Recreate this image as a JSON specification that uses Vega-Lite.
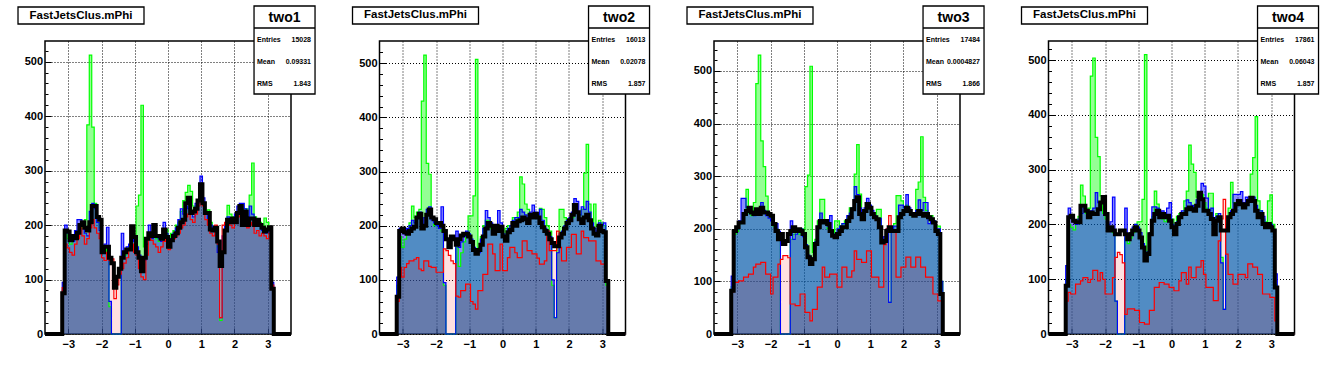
{
"$schema":"https://vega.github.io/schema/vega-lite/v6.json",
"background":"white",
"padding":{"left":16,"top":4,"right":0,"bottom":0},
"bounds":"flush",
"spacing":88.5,
"config":{"view":{"stroke":"#000","strokeWidth":1.5},"font":"Liberation Sans"},
"datasets":{"h":[
{"p":1,"x":-3.7,"g":0,"b":0,"r":0,"k":0},{"p":1,"x":-3.219,"g":0,"b":0,"r":0,"k":0},
{"p":1,"x":-3.145,"g":80,"b":95,"r":85,"k":75},{"p":1,"x":-3.071,"g":185,"b":200,"r":165,"k":190},{"p":1,"x":-2.997,"g":175,"b":185,"r":158,"k":188},{"p":1,"x":-2.923,"g":165,"b":175,"r":150,"k":172},{"p":1,"x":-2.849,"g":170,"b":170,"r":145,"k":180},{"p":1,"x":-2.775,"g":180,"b":190,"r":165,"k":176},{"p":1,"x":-2.701,"g":190,"b":210,"r":175,"k":186},{"p":1,"x":-2.627,"g":200,"b":210,"r":195,"k":200},{"p":1,"x":-2.553,"g":195,"b":200,"r":180,"k":205},{"p":1,"x":-2.479,"g":210,"b":185,"r":165,"k":195},
{"p":1,"x":-2.405,"g":384,"b":180,"r":175,"k":190},{"p":1,"x":-2.331,"g":512,"b":225,"r":195,"k":205},{"p":1,"x":-2.257,"g":380,"b":240,"r":210,"k":235},{"p":1,"x":-2.183,"g":240,"b":230,"r":195,"k":235},{"p":1,"x":-2.109,"g":205,"b":205,"r":185,"k":215},{"p":1,"x":-2.035,"g":195,"b":190,"r":175,"k":210},{"p":1,"x":-1.961,"g":150,"b":160,"r":140,"k":150},{"p":1,"x":-1.887,"g":150,"b":165,"r":135,"k":160},{"p":1,"x":-1.813,"g":160,"b":196,"r":150,"k":160},{"p":1,"x":-1.739,"g":50,"b":60,"r":135,"k":140},
{"p":1,"x":-1.665,"g":0,"b":0,"r":138,"k":130},{"p":1,"x":-1.591,"g":0,"b":0,"r":65,"k":85},{"p":1,"x":-1.517,"g":0,"b":0,"r":90,"k":105},{"p":1,"x":-1.443,"g":0,"b":0,"r":110,"k":120},{"p":1,"x":-1.369,"g":140,"b":185,"r":120,"k":140},{"p":1,"x":-1.295,"g":145,"b":150,"r":130,"k":150},{"p":1,"x":-1.221,"g":150,"b":160,"r":140,"k":155},{"p":1,"x":-1.147,"g":160,"b":165,"r":155,"k":155},{"p":1,"x":-1.073,"g":175,"b":185,"r":165,"k":198},{"p":1,"x":-0.999,"g":170,"b":170,"r":150,"k":178},
{"p":1,"x":-0.925,"g":235,"b":160,"r":145,"k":150},{"p":1,"x":-0.851,"g":255,"b":145,"r":120,"k":140},{"p":1,"x":-0.777,"g":420,"b":120,"r":105,"k":115},{"p":1,"x":-0.703,"g":160,"b":135,"r":100,"k":140},{"p":1,"x":-0.629,"g":165,"b":165,"r":145,"k":175},{"p":1,"x":-0.555,"g":180,"b":200,"r":175,"k":185},{"p":1,"x":-0.481,"g":175,"b":175,"r":172,"k":180},{"p":1,"x":-0.407,"g":190,"b":185,"r":165,"k":200},{"p":1,"x":-0.333,"g":175,"b":180,"r":160,"k":180},{"p":1,"x":-0.259,"g":170,"b":175,"r":150,"k":180},
{"p":1,"x":-0.185,"g":180,"b":170,"r":160,"k":175},{"p":1,"x":-0.111,"g":190,"b":205,"r":170,"k":192},{"p":1,"x":-0.037,"g":192,"b":185,"r":175,"k":178},{"p":1,"x":0.037,"g":175,"b":170,"r":155,"k":160},{"p":1,"x":0.111,"g":185,"b":175,"r":170,"k":172},{"p":1,"x":0.185,"g":190,"b":185,"r":175,"k":180},{"p":1,"x":0.259,"g":200,"b":195,"r":180,"k":185},{"p":1,"x":0.333,"g":205,"b":210,"r":185,"k":195},{"p":1,"x":0.407,"g":225,"b":230,"r":195,"k":205},{"p":1,"x":0.481,"g":245,"b":220,"r":200,"k":210},
{"p":1,"x":0.555,"g":260,"b":235,"r":215,"k":240},{"p":1,"x":0.629,"g":273,"b":230,"r":220,"k":250},{"p":1,"x":0.703,"g":262,"b":225,"r":210,"k":222},{"p":1,"x":0.777,"g":235,"b":215,"r":205,"k":225},{"p":1,"x":0.851,"g":230,"b":240,"r":220,"k":230},{"p":1,"x":0.925,"g":240,"b":240,"r":235,"k":245},{"p":1,"x":0.999,"g":265,"b":290,"r":250,"k":275},{"p":1,"x":1.073,"g":240,"b":250,"r":235,"k":240},{"p":1,"x":1.147,"g":225,"b":220,"r":210,"k":222},{"p":1,"x":1.221,"g":228,"b":210,"r":200,"k":222},
{"p":1,"x":1.295,"g":205,"b":200,"r":185,"k":192},{"p":1,"x":1.369,"g":195,"b":195,"r":180,"k":190},{"p":1,"x":1.443,"g":195,"b":190,"r":200,"k":195},{"p":1,"x":1.517,"g":160,"b":150,"r":165,"k":170},{"p":1,"x":1.591,"g":25,"b":30,"r":30,"k":125},{"p":1,"x":1.665,"g":170,"b":180,"r":200,"k":150},{"p":1,"x":1.739,"g":200,"b":200,"r":205,"k":190},{"p":1,"x":1.813,"g":236,"b":215,"r":205,"k":210},{"p":1,"x":1.887,"g":220,"b":210,"r":200,"k":205},{"p":1,"x":1.961,"g":215,"b":205,"r":195,"k":212},
{"p":1,"x":2.035,"g":215,"b":220,"r":210,"k":205},{"p":1,"x":2.109,"g":225,"b":235,"r":215,"k":222},{"p":1,"x":2.183,"g":235,"b":240,"r":225,"k":235},{"p":1,"x":2.257,"g":230,"b":240,"r":205,"k":200},{"p":1,"x":2.331,"g":230,"b":230,"r":200,"k":225},{"p":1,"x":2.405,"g":230,"b":215,"r":195,"k":200},{"p":1,"x":2.479,"g":255,"b":235,"r":205,"k":212},{"p":1,"x":2.553,"g":314,"b":220,"r":200,"k":212},{"p":1,"x":2.627,"g":215,"b":210,"r":185,"k":200},{"p":1,"x":2.701,"g":210,"b":205,"r":190,"k":210},
{"p":1,"x":2.775,"g":205,"b":200,"r":180,"k":200},{"p":1,"x":2.849,"g":200,"b":190,"r":185,"k":195},{"p":1,"x":2.923,"g":213,"b":185,"r":180,"k":188},{"p":1,"x":2.997,"g":205,"b":190,"r":175,"k":192},{"p":1,"x":3.071,"g":190,"b":185,"r":185,"k":196},{"p":1,"x":3.145,"g":85,"b":95,"r":90,"k":83},
{"p":1,"x":3.219,"g":0,"b":0,"r":0,"k":0},{"p":1,"x":3.7,"g":0,"b":0,"r":0,"k":0},

{"p":2,"x":-3.7,"g":0,"b":0,"r":0,"k":0},{"p":2,"x":-3.219,"g":0,"b":0,"r":0,"k":0},
{"p":2,"x":-3.145,"g":90,"b":105,"r":60,"k":69},{"p":2,"x":-3.071,"g":180,"b":195,"r":123,"k":190},{"p":2,"x":-2.997,"g":160,"b":190,"r":105,"k":195},{"p":2,"x":-2.923,"g":175,"b":185,"r":123,"k":188},{"p":2,"x":-2.849,"g":190,"b":195,"r":130,"k":185},{"p":2,"x":-2.775,"g":205,"b":200,"r":135,"k":190},{"p":2,"x":-2.701,"g":236,"b":210,"r":135,"k":195},{"p":2,"x":-2.627,"g":215,"b":205,"r":138,"k":198},{"p":2,"x":-2.553,"g":225,"b":215,"r":141,"k":215},{"p":2,"x":-2.479,"g":230,"b":225,"r":120,"k":222},
{"p":2,"x":-2.405,"g":430,"b":200,"r":117,"k":195},{"p":2,"x":-2.331,"g":515,"b":215,"r":135,"k":200},{"p":2,"x":-2.257,"g":315,"b":230,"r":135,"k":220},{"p":2,"x":-2.183,"g":295,"b":235,"r":125,"k":230},{"p":2,"x":-2.109,"g":215,"b":210,"r":123,"k":215},{"p":2,"x":-2.035,"g":200,"b":205,"r":123,"k":212},{"p":2,"x":-1.961,"g":200,"b":200,"r":114,"k":205},{"p":2,"x":-1.887,"g":195,"b":195,"r":114,"k":205},{"p":2,"x":-1.813,"g":190,"b":235,"r":114,"k":200},{"p":2,"x":-1.739,"g":90,"b":95,"r":157,"k":190},
{"p":2,"x":-1.665,"g":0,"b":0,"r":154,"k":175},{"p":2,"x":-1.591,"g":0,"b":0,"r":145,"k":160},{"p":2,"x":-1.517,"g":0,"b":0,"r":135,"k":180},{"p":2,"x":-1.443,"g":0,"b":0,"r":130,"k":175},{"p":2,"x":-1.369,"g":160,"b":190,"r":70,"k":165},{"p":2,"x":-1.295,"g":125,"b":160,"r":68,"k":175},{"p":2,"x":-1.221,"g":150,"b":170,"r":80,"k":182},{"p":2,"x":-1.147,"g":170,"b":180,"r":80,"k":185},{"p":2,"x":-1.073,"g":185,"b":190,"r":92,"k":185},{"p":2,"x":-0.999,"g":218,"b":185,"r":92,"k":180},
{"p":2,"x":-0.925,"g":218,"b":175,"r":60,"k":170},{"p":2,"x":-0.851,"g":255,"b":160,"r":55,"k":155},{"p":2,"x":-0.777,"g":507,"b":150,"r":46,"k":148},{"p":2,"x":-0.703,"g":160,"b":150,"r":80,"k":155},{"p":2,"x":-0.629,"g":180,"b":175,"r":80,"k":165},{"p":2,"x":-0.555,"g":200,"b":195,"r":110,"k":180},{"p":2,"x":-0.481,"g":210,"b":228,"r":110,"k":195},{"p":2,"x":-0.407,"g":210,"b":215,"r":166,"k":205},{"p":2,"x":-0.333,"g":195,"b":205,"r":166,"k":200},{"p":2,"x":-0.259,"g":185,"b":195,"r":148,"k":185},
{"p":2,"x":-0.185,"g":195,"b":200,"r":117,"k":200},{"p":2,"x":-0.111,"g":190,"b":228,"r":117,"k":190},{"p":2,"x":-0.037,"g":195,"b":205,"r":166,"k":198},{"p":2,"x":0.037,"g":180,"b":185,"r":117,"k":180},{"p":2,"x":0.111,"g":195,"b":180,"r":117,"k":172},{"p":2,"x":0.185,"g":200,"b":195,"r":141,"k":188},{"p":2,"x":0.259,"g":190,"b":200,"r":160,"k":192},{"p":2,"x":0.333,"g":215,"b":210,"r":160,"k":205},{"p":2,"x":0.407,"g":205,"b":215,"r":150,"k":200},{"p":2,"x":0.481,"g":225,"b":215,"r":141,"k":208},
{"p":2,"x":0.555,"g":290,"b":230,"r":141,"k":210},{"p":2,"x":0.629,"g":277,"b":225,"r":172,"k":215},{"p":2,"x":0.703,"g":240,"b":220,"r":172,"k":212},{"p":2,"x":0.777,"g":230,"b":210,"r":154,"k":205},{"p":2,"x":0.851,"g":215,"b":225,"r":154,"k":220},{"p":2,"x":0.925,"g":220,"b":238,"r":148,"k":215},{"p":2,"x":0.999,"g":215,"b":225,"r":148,"k":222},{"p":2,"x":1.073,"g":215,"b":220,"r":140,"k":215},{"p":2,"x":1.147,"g":232,"b":230,"r":129,"k":205},{"p":2,"x":1.221,"g":230,"b":210,"r":129,"k":197},
{"p":2,"x":1.295,"g":215,"b":195,"r":135,"k":190},{"p":2,"x":1.369,"g":200,"b":190,"r":190,"k":185},{"p":2,"x":1.443,"g":190,"b":180,"r":154,"k":175},{"p":2,"x":1.517,"g":90,"b":100,"r":154,"k":168},{"p":2,"x":1.591,"g":30,"b":30,"r":154,"k":162},{"p":2,"x":1.665,"g":160,"b":150,"r":190,"k":162},{"p":2,"x":1.739,"g":230,"b":185,"r":160,"k":178},{"p":2,"x":1.813,"g":230,"b":190,"r":135,"k":185},{"p":2,"x":1.887,"g":215,"b":200,"r":135,"k":195},{"p":2,"x":1.961,"g":205,"b":210,"r":160,"k":205},
{"p":2,"x":2.035,"g":210,"b":215,"r":160,"k":210},{"p":2,"x":2.109,"g":215,"b":225,"r":184,"k":220},{"p":2,"x":2.183,"g":230,"b":250,"r":184,"k":238},{"p":2,"x":2.257,"g":225,"b":245,"r":148,"k":225},{"p":2,"x":2.331,"g":220,"b":220,"r":148,"k":212},{"p":2,"x":2.405,"g":230,"b":235,"r":190,"k":205},{"p":2,"x":2.479,"g":297,"b":230,"r":178,"k":215},{"p":2,"x":2.553,"g":350,"b":245,"r":178,"k":220},{"p":2,"x":2.627,"g":240,"b":225,"r":172,"k":210},{"p":2,"x":2.701,"g":200,"b":205,"r":172,"k":195},
{"p":2,"x":2.775,"g":240,"b":195,"r":172,"k":185},{"p":2,"x":2.849,"g":200,"b":190,"r":135,"k":182},{"p":2,"x":2.923,"g":210,"b":205,"r":135,"k":200},{"p":2,"x":2.997,"g":205,"b":200,"r":129,"k":190},{"p":2,"x":3.071,"g":200,"b":205,"r":129,"k":188},{"p":2,"x":3.145,"g":90,"b":100,"r":98,"k":98},
{"p":2,"x":3.219,"g":0,"b":0,"r":0,"k":0},{"p":2,"x":3.7,"g":0,"b":0,"r":0,"k":0},

{"p":3,"x":-3.7,"g":0,"b":0,"r":0,"k":0},{"p":3,"x":-3.219,"g":0,"b":0,"r":0,"k":0},
{"p":3,"x":-3.145,"g":90,"b":110,"r":80,"k":82},{"p":3,"x":-3.071,"g":190,"b":195,"r":98,"k":196},{"p":3,"x":-2.997,"g":195,"b":200,"r":98,"k":203},{"p":3,"x":-2.923,"g":210,"b":215,"r":101,"k":212},{"p":3,"x":-2.849,"g":215,"b":258,"r":101,"k":212},{"p":3,"x":-2.775,"g":230,"b":258,"r":108,"k":228},{"p":3,"x":-2.701,"g":275,"b":240,"r":108,"k":234},{"p":3,"x":-2.627,"g":230,"b":235,"r":114,"k":240},{"p":3,"x":-2.553,"g":225,"b":230,"r":114,"k":231},{"p":3,"x":-2.479,"g":250,"b":225,"r":127,"k":228},
{"p":3,"x":-2.405,"g":476,"b":235,"r":133,"k":237},{"p":3,"x":-2.331,"g":530,"b":230,"r":133,"k":228},{"p":3,"x":-2.257,"g":367,"b":250,"r":136,"k":240},{"p":3,"x":-2.183,"g":318,"b":235,"r":136,"k":231},{"p":3,"x":-2.109,"g":262,"b":225,"r":114,"k":231},{"p":3,"x":-2.035,"g":225,"b":220,"r":114,"k":228},{"p":3,"x":-1.961,"g":220,"b":215,"r":76,"k":225},{"p":3,"x":-1.887,"g":205,"b":210,"r":108,"k":209},{"p":3,"x":-1.813,"g":200,"b":210,"r":108,"k":196},{"p":3,"x":-1.739,"g":185,"b":195,"r":133,"k":180},
{"p":3,"x":-1.665,"g":0,"b":0,"r":142,"k":190},{"p":3,"x":-1.591,"g":0,"b":0,"r":149,"k":171},{"p":3,"x":-1.517,"g":0,"b":0,"r":149,"k":177},{"p":3,"x":-1.443,"g":0,"b":0,"r":145,"k":190},{"p":3,"x":-1.369,"g":180,"b":215,"r":57,"k":196},{"p":3,"x":-1.295,"g":190,"b":180,"r":57,"k":203},{"p":3,"x":-1.221,"g":195,"b":190,"r":54,"k":196},{"p":3,"x":-1.147,"g":190,"b":195,"r":54,"k":199},{"p":3,"x":-1.073,"g":200,"b":200,"r":76,"k":196},{"p":3,"x":-0.999,"g":200,"b":185,"r":76,"k":190},
{"p":3,"x":-0.925,"g":280,"b":170,"r":41,"k":165},{"p":3,"x":-0.851,"g":302,"b":150,"r":41,"k":146},{"p":3,"x":-0.777,"g":509,"b":140,"r":25,"k":133},{"p":3,"x":-0.703,"g":155,"b":145,"r":47,"k":142},{"p":3,"x":-0.629,"g":180,"b":175,"r":47,"k":171},{"p":3,"x":-0.555,"g":215,"b":205,"r":89,"k":203},{"p":3,"x":-0.481,"g":256,"b":230,"r":89,"k":215},{"p":3,"x":-0.407,"g":256,"b":215,"r":127,"k":212},{"p":3,"x":-0.333,"g":210,"b":210,"r":108,"k":215},{"p":3,"x":-0.259,"g":200,"b":205,"r":108,"k":209},
{"p":3,"x":-0.185,"g":195,"b":225,"r":114,"k":196},{"p":3,"x":-0.111,"g":190,"b":190,"r":114,"k":187},{"p":3,"x":-0.037,"g":215,"b":185,"r":114,"k":184},{"p":3,"x":0.037,"g":215,"b":200,"r":89,"k":190},{"p":3,"x":0.111,"g":200,"b":205,"r":89,"k":196},{"p":3,"x":0.185,"g":210,"b":210,"r":127,"k":203},{"p":3,"x":0.259,"g":215,"b":210,"r":127,"k":203},{"p":3,"x":0.333,"g":220,"b":225,"r":108,"k":215},{"p":3,"x":0.407,"g":240,"b":230,"r":108,"k":222},{"p":3,"x":0.481,"g":240,"b":240,"r":120,"k":237},
{"p":3,"x":0.555,"g":304,"b":280,"r":158,"k":253},{"p":3,"x":0.629,"g":360,"b":265,"r":142,"k":260},{"p":3,"x":0.703,"g":266,"b":240,"r":142,"k":228},{"p":3,"x":0.777,"g":230,"b":225,"r":136,"k":218},{"p":3,"x":0.851,"g":235,"b":240,"r":136,"k":234},{"p":3,"x":0.925,"g":245,"b":258,"r":158,"k":247},{"p":3,"x":0.999,"g":240,"b":245,"r":158,"k":240},{"p":3,"x":1.073,"g":230,"b":235,"r":108,"k":228},{"p":3,"x":1.147,"g":225,"b":225,"r":108,"k":222},{"p":3,"x":1.221,"g":237,"b":220,"r":108,"k":218},
{"p":3,"x":1.295,"g":237,"b":220,"r":89,"k":203},{"p":3,"x":1.369,"g":175,"b":180,"r":89,"k":174},{"p":3,"x":1.443,"g":180,"b":185,"r":170,"k":177},{"p":3,"x":1.517,"g":190,"b":200,"r":200,"k":196},{"p":3,"x":1.591,"g":60,"b":60,"r":225,"k":203},{"p":3,"x":1.665,"g":200,"b":200,"r":196,"k":196},{"p":3,"x":1.739,"g":210,"b":205,"r":196,"k":196},{"p":3,"x":1.813,"g":263,"b":205,"r":108,"k":196},{"p":3,"x":1.887,"g":263,"b":245,"r":108,"k":222},{"p":3,"x":1.961,"g":253,"b":245,"r":127,"k":228},
{"p":3,"x":2.035,"g":240,"b":240,"r":127,"k":234},{"p":3,"x":2.109,"g":245,"b":265,"r":146,"k":240},{"p":3,"x":2.183,"g":235,"b":240,"r":146,"k":234},{"p":3,"x":2.257,"g":225,"b":230,"r":127,"k":228},{"p":3,"x":2.331,"g":230,"b":225,"r":127,"k":225},{"p":3,"x":2.405,"g":275,"b":235,"r":146,"k":228},{"p":3,"x":2.479,"g":289,"b":255,"r":146,"k":234},{"p":3,"x":2.553,"g":375,"b":235,"r":127,"k":228},{"p":3,"x":2.627,"g":260,"b":250,"r":127,"k":225},{"p":3,"x":2.701,"g":235,"b":250,"r":108,"k":228},
{"p":3,"x":2.775,"g":220,"b":210,"r":108,"k":222},{"p":3,"x":2.849,"g":225,"b":220,"r":108,"k":218},{"p":3,"x":2.923,"g":215,"b":215,"r":76,"k":212},{"p":3,"x":2.997,"g":205,"b":200,"r":76,"k":196},{"p":3,"x":3.071,"g":205,"b":200,"r":63,"k":190},{"p":3,"x":3.145,"g":100,"b":100,"r":63,"k":76},
{"p":3,"x":3.219,"g":0,"b":0,"r":0,"k":0},{"p":3,"x":3.7,"g":0,"b":0,"r":0,"k":0},

{"p":4,"x":-3.7,"g":0,"b":0,"r":0,"k":0},{"p":4,"x":-3.219,"g":0,"b":0,"r":0,"k":0},
{"p":4,"x":-3.145,"g":100,"b":125,"r":60,"k":88},{"p":4,"x":-3.071,"g":200,"b":230,"r":76,"k":213},{"p":4,"x":-2.997,"g":195,"b":215,"r":73,"k":216},{"p":4,"x":-2.923,"g":190,"b":205,"r":73,"k":207},{"p":4,"x":-2.849,"g":200,"b":200,"r":91,"k":204},{"p":4,"x":-2.775,"g":215,"b":210,"r":91,"k":204},{"p":4,"x":-2.701,"g":272,"b":220,"r":97,"k":234},{"p":4,"x":-2.627,"g":252,"b":230,"r":103,"k":234},{"p":4,"x":-2.553,"g":220,"b":225,"r":103,"k":225},{"p":4,"x":-2.479,"g":230,"b":215,"r":94,"k":213},
{"p":4,"x":-2.405,"g":471,"b":225,"r":100,"k":222},{"p":4,"x":-2.331,"g":504,"b":230,"r":116,"k":219},{"p":4,"x":-2.257,"g":359,"b":258,"r":116,"k":219},{"p":4,"x":-2.183,"g":324,"b":240,"r":97,"k":228},{"p":4,"x":-2.109,"g":252,"b":240,"r":112,"k":240},{"p":4,"x":-2.035,"g":220,"b":250,"r":100,"k":250},{"p":4,"x":-1.961,"g":210,"b":220,"r":73,"k":219},{"p":4,"x":-1.887,"g":195,"b":200,"r":73,"k":189},{"p":4,"x":-1.813,"g":190,"b":205,"r":73,"k":195},{"p":4,"x":-1.739,"g":185,"b":250,"r":103,"k":189},
{"p":4,"x":-1.665,"g":60,"b":60,"r":140,"k":182},{"p":4,"x":-1.591,"g":0,"b":0,"r":149,"k":182},{"p":4,"x":-1.517,"g":0,"b":0,"r":145,"k":189},{"p":4,"x":-1.443,"g":0,"b":0,"r":130,"k":189},{"p":4,"x":-1.369,"g":175,"b":230,"r":36,"k":182},{"p":4,"x":-1.295,"g":165,"b":180,"r":46,"k":173},{"p":4,"x":-1.221,"g":175,"b":185,"r":46,"k":182},{"p":4,"x":-1.147,"g":185,"b":195,"r":46,"k":189},{"p":4,"x":-1.073,"g":200,"b":200,"r":43,"k":195},{"p":4,"x":-0.999,"g":205,"b":195,"r":43,"k":189},
{"p":4,"x":-0.925,"g":205,"b":185,"r":21,"k":176},{"p":4,"x":-0.851,"g":246,"b":165,"r":21,"k":158},{"p":4,"x":-0.777,"g":510,"b":140,"r":18,"k":134},{"p":4,"x":-0.703,"g":150,"b":150,"r":18,"k":146},{"p":4,"x":-0.629,"g":180,"b":185,"r":43,"k":182},{"p":4,"x":-0.555,"g":215,"b":232,"r":43,"k":207},{"p":4,"x":-0.481,"g":261,"b":232,"r":85,"k":219},{"p":4,"x":-0.407,"g":237,"b":230,"r":85,"k":225},{"p":4,"x":-0.333,"g":215,"b":215,"r":94,"k":213},{"p":4,"x":-0.259,"g":210,"b":225,"r":94,"k":219},
{"p":4,"x":-0.185,"g":205,"b":220,"r":91,"k":213},{"p":4,"x":-0.111,"g":210,"b":230,"r":91,"k":216},{"p":4,"x":-0.037,"g":215,"b":240,"r":85,"k":207},{"p":4,"x":0.037,"g":210,"b":200,"r":85,"k":195},{"p":4,"x":0.111,"g":195,"b":190,"r":79,"k":182},{"p":4,"x":0.185,"g":215,"b":205,"r":79,"k":201},{"p":4,"x":0.259,"g":220,"b":215,"r":97,"k":213},{"p":4,"x":0.333,"g":220,"b":225,"r":112,"k":219},{"p":4,"x":0.407,"g":243,"b":225,"r":112,"k":219},{"p":4,"x":0.481,"g":261,"b":245,"r":91,"k":228},
{"p":4,"x":0.555,"g":345,"b":240,"r":122,"k":231},{"p":4,"x":0.629,"g":310,"b":235,"r":103,"k":228},{"p":4,"x":0.703,"g":295,"b":230,"r":103,"k":225},{"p":4,"x":0.777,"g":250,"b":245,"r":122,"k":234},{"p":4,"x":0.851,"g":258,"b":245,"r":122,"k":258},{"p":4,"x":0.925,"g":255,"b":275,"r":134,"k":246},{"p":4,"x":0.999,"g":240,"b":270,"r":109,"k":225},{"p":4,"x":1.073,"g":230,"b":248,"r":85,"k":225},{"p":4,"x":1.147,"g":257,"b":225,"r":85,"k":219},{"p":4,"x":1.221,"g":257,"b":230,"r":85,"k":210},
{"p":4,"x":1.295,"g":185,"b":195,"r":61,"k":182},{"p":4,"x":1.369,"g":220,"b":215,"r":61,"k":207},{"p":4,"x":1.443,"g":215,"b":220,"r":170,"k":213},{"p":4,"x":1.517,"g":140,"b":130,"r":210,"k":189},{"p":4,"x":1.591,"g":45,"b":45,"r":246,"k":189},{"p":4,"x":1.665,"g":200,"b":195,"r":146,"k":189},{"p":4,"x":1.739,"g":230,"b":215,"r":109,"k":213},{"p":4,"x":1.813,"g":277,"b":225,"r":109,"k":219},{"p":4,"x":1.887,"g":240,"b":255,"r":91,"k":225},{"p":4,"x":1.961,"g":240,"b":255,"r":91,"k":237},
{"p":4,"x":2.035,"g":245,"b":255,"r":109,"k":243},{"p":4,"x":2.109,"g":240,"b":260,"r":109,"k":237},{"p":4,"x":2.183,"g":235,"b":240,"r":109,"k":231},{"p":4,"x":2.257,"g":240,"b":250,"r":103,"k":237},{"p":4,"x":2.331,"g":245,"b":245,"r":128,"k":243},{"p":4,"x":2.405,"g":292,"b":245,"r":128,"k":249},{"p":4,"x":2.479,"g":322,"b":250,"r":122,"k":243},{"p":4,"x":2.553,"g":397,"b":235,"r":122,"k":225},{"p":4,"x":2.627,"g":243,"b":225,"r":109,"k":213},{"p":4,"x":2.701,"g":225,"b":225,"r":109,"k":219},
{"p":4,"x":2.775,"g":210,"b":215,"r":73,"k":201},{"p":4,"x":2.849,"g":205,"b":200,"r":73,"k":195},{"p":4,"x":2.923,"g":243,"b":200,"r":73,"k":201},{"p":4,"x":2.997,"g":254,"b":200,"r":67,"k":195},{"p":4,"x":3.071,"g":200,"b":190,"r":67,"k":189},{"p":4,"x":3.145,"g":90,"b":110,"r":24,"k":85},
{"p":4,"x":3.219,"g":0,"b":0,"r":0,"k":0},{"p":4,"x":3.7,"g":0,"b":0,"r":0,"k":0}
]},
"hconcat":[
{"width":246,"height":293,"resolve":{"axis":{"y":"independent"}},"layer":[
 {"data":{"name":"h"},"transform":[{"filter":"datum.p==1"}],
  "encoding":{"x":{"field":"x","type":"quantitative","title":null,"scale":{"domain":[-3.7,3.7],"nice":false,"zero":false},"axis":{"values":[-3,-2,-1,0,1,2,3],"grid":true,"gridColor":"#000","gridDash":[1,2],"domain":false,"tickSize":-6,"tickColor":"#000","labelPadding":10,"labelOverlap":false,"labelFont":"Liberation Sans","labelFontWeight":"bold","labelFontSize":11,"labelColor":"#000","title":null}}},
  "layer":[
   {"mark":{"type":"area","interpolate":"step","fill":"#00ff00","fillOpacity":0.42},"encoding":{"y":{"field":"g","type":"quantitative","title":null,"scale":{"domain":[0,538],"nice":false},"axis":{"values":[0,100,200,300,400,500],"grid":true,"gridColor":"#000","gridDash":[1,2],"domain":false,"tickSize":-6,"tickColor":"#000","labelPadding":8.5,"labelOverlap":false,"labelFont":"Liberation Sans","labelFontWeight":"bold","labelFontSize":11,"labelColor":"#000","title":null}}}},
   {"mark":{"type":"area","interpolate":"step","fill":"#0000ff","fillOpacity":0.45},"encoding":{"y":{"field":"b","type":"quantitative","title":null}}},
   {"mark":{"type":"area","interpolate":"step","fill":"#ff0000","fillOpacity":0.12},"encoding":{"y":{"field":"r","type":"quantitative","title":null}}},
   {"mark":{"type":"line","interpolate":"step","stroke":"#00ff00","strokeWidth":1.2},"encoding":{"y":{"field":"g","type":"quantitative","title":null}}},
   {"mark":{"type":"line","interpolate":"step","stroke":"#0000ff","strokeWidth":1.2},"encoding":{"y":{"field":"b","type":"quantitative","title":null}}},
   {"mark":{"type":"line","interpolate":"step","stroke":"#ff0000","strokeWidth":1.2},"encoding":{"y":{"field":"r","type":"quantitative","title":null}}},
   {"mark":{"type":"line","interpolate":"step","stroke":"#000000","strokeWidth":4},"encoding":{"y":{"field":"k","type":"quantitative","title":null}}}
  ]},
 {"data":{"values":[{}]},"mark":{"type":"rect","fill":"#fff","stroke":"#000","strokeWidth":1.3},"encoding":{"x":{"datum":-4.512,"title":null},"x2":{"datum":-0.722},"y":{"datum":600.4,"title":null,"axis":null},"y2":{"datum":569.2}}},
 {"data":{"values":[{}]},"mark":{"type":"text","text":"FastJetsClus.mPhi","font":"Liberation Sans","fontWeight":"bold","fontSize":11.5,"align":"center","baseline":"middle","color":"#000"},"encoding":{"x":{"datum":-2.617,"title":null},"y":{"datum":584.8,"title":null,"axis":null}}},
 {"data":{"values":[{}]},"mark":{"type":"rect","fill":"#fff","stroke":"#000","strokeWidth":1.3},"encoding":{"x":{"datum":2.588,"title":null},"x2":{"datum":4.423},"y":{"datum":602.3,"title":null,"axis":{"orient":"left","values":[20,40,60,80,120,140,160,180,220,240,260,280,320,340,360,380,420,440,460,480,520],"labels":false,"grid":false,"domain":false,"tickSize":-3,"tickColor":"#000","title":null}},"y2":{"datum":440.7}}},
 {"data":{"values":[{}]},"mark":{"type":"rule","stroke":"#000","strokeWidth":1.3},"encoding":{"x":{"datum":2.588,"title":null},"x2":{"datum":4.423},"y":{"datum":561.9,"title":null,"axis":null}}},
 {"data":{"values":[{}]},"mark":{"type":"text","text":"two1","font":"Liberation Sans","fontWeight":"bold","fontSize":14,"align":"center","baseline":"middle","color":"#000"},"encoding":{"x":{"datum":3.505,"title":null},"y":{"datum":580.8,"title":null,"axis":null}}},
 {"data":{"values":[{}]},"mark":{"type":"text","text":["Entries","Mean","RMS"],"lineHeight":22,"font":"Liberation Sans","fontWeight":"bold","fontSize":7,"align":"left","baseline":"middle","color":"#000"},"encoding":{"x":{"datum":2.678,"title":null},"y":{"datum":539.8,"title":null,"axis":null}}},
 {"data":{"values":[{}]},"mark":{"type":"text","text":["15028","0.09331","1.843"],"lineHeight":22,"font":"Liberation Sans","fontWeight":"bold","fontSize":7,"align":"right","baseline":"middle","color":"#000"},"encoding":{"x":{"datum":4.302,"title":null},"y":{"datum":539.8,"title":null,"axis":null}}}
]},
{"width":246,"height":293,"resolve":{"axis":{"y":"independent"}},"layer":[
 {"data":{"name":"h"},"transform":[{"filter":"datum.p==2"}],
  "encoding":{"x":{"field":"x","type":"quantitative","title":null,"scale":{"domain":[-3.7,3.7],"nice":false,"zero":false},"axis":{"values":[-3,-2,-1,0,1,2,3],"grid":true,"gridColor":"#000","gridDash":[1,2],"domain":false,"tickSize":-6,"tickColor":"#000","labelPadding":10,"labelOverlap":false,"labelFont":"Liberation Sans","labelFontWeight":"bold","labelFontSize":11,"labelColor":"#000","title":null}}},
  "layer":[
   {"mark":{"type":"area","interpolate":"step","fill":"#00ff00","fillOpacity":0.42},"encoding":{"y":{"field":"g","type":"quantitative","title":null,"scale":{"domain":[0,541],"nice":false},"axis":{"values":[0,100,200,300,400,500],"grid":true,"gridColor":"#000","gridDash":[1,2],"domain":false,"tickSize":-6,"tickColor":"#000","labelPadding":8.5,"labelOverlap":false,"labelFont":"Liberation Sans","labelFontWeight":"bold","labelFontSize":11,"labelColor":"#000","title":null}}}},
   {"mark":{"type":"area","interpolate":"step","fill":"#0000ff","fillOpacity":0.45},"encoding":{"y":{"field":"b","type":"quantitative","title":null}}},
   {"mark":{"type":"area","interpolate":"step","fill":"#ff0000","fillOpacity":0.12},"encoding":{"y":{"field":"r","type":"quantitative","title":null}}},
   {"mark":{"type":"line","interpolate":"step","stroke":"#00ff00","strokeWidth":1.2},"encoding":{"y":{"field":"g","type":"quantitative","title":null}}},
   {"mark":{"type":"line","interpolate":"step","stroke":"#0000ff","strokeWidth":1.2},"encoding":{"y":{"field":"b","type":"quantitative","title":null}}},
   {"mark":{"type":"line","interpolate":"step","stroke":"#ff0000","strokeWidth":1.2},"encoding":{"y":{"field":"r","type":"quantitative","title":null}}},
   {"mark":{"type":"line","interpolate":"step","stroke":"#000000","strokeWidth":4},"encoding":{"y":{"field":"k","type":"quantitative","title":null}}}
  ]},
 {"data":{"values":[{}]},"mark":{"type":"rect","fill":"#fff","stroke":"#000","strokeWidth":1.3},"encoding":{"x":{"datum":-4.512,"title":null},"x2":{"datum":-0.722},"y":{"datum":603.8,"title":null,"axis":null},"y2":{"datum":572.4}}},
 {"data":{"values":[{}]},"mark":{"type":"text","text":"FastJetsClus.mPhi","font":"Liberation Sans","fontWeight":"bold","fontSize":11.5,"align":"center","baseline":"middle","color":"#000"},"encoding":{"x":{"datum":-2.617,"title":null},"y":{"datum":588.1,"title":null,"axis":null}}},
 {"data":{"values":[{}]},"mark":{"type":"rect","fill":"#fff","stroke":"#000","strokeWidth":1.3},"encoding":{"x":{"datum":2.588,"title":null},"x2":{"datum":4.423},"y":{"datum":605.6,"title":null,"axis":{"orient":"left","values":[20,40,60,80,120,140,160,180,220,240,260,280,320,340,360,380,420,440,460,480,520],"labels":false,"grid":false,"domain":false,"tickSize":-3,"tickColor":"#000","title":null}},"y2":{"datum":443.1}}},
 {"data":{"values":[{}]},"mark":{"type":"rule","stroke":"#000","strokeWidth":1.3},"encoding":{"x":{"datum":2.588,"title":null},"x2":{"datum":4.423},"y":{"datum":565,"title":null,"axis":null}}},
 {"data":{"values":[{}]},"mark":{"type":"text","text":"two2","font":"Liberation Sans","fontWeight":"bold","fontSize":14,"align":"center","baseline":"middle","color":"#000"},"encoding":{"x":{"datum":3.505,"title":null},"y":{"datum":584,"title":null,"axis":null}}},
 {"data":{"values":[{}]},"mark":{"type":"text","text":["Entries","Mean","RMS"],"lineHeight":22,"font":"Liberation Sans","fontWeight":"bold","fontSize":7,"align":"left","baseline":"middle","color":"#000"},"encoding":{"x":{"datum":2.678,"title":null},"y":{"datum":542.8,"title":null,"axis":null}}},
 {"data":{"values":[{}]},"mark":{"type":"text","text":["16013","0.02078","1.857"],"lineHeight":22,"font":"Liberation Sans","fontWeight":"bold","fontSize":7,"align":"right","baseline":"middle","color":"#000"},"encoding":{"x":{"datum":4.302,"title":null},"y":{"datum":542.8,"title":null,"axis":null}}}
]},
{"width":246,"height":293,"resolve":{"axis":{"y":"independent"}},"layer":[
 {"data":{"name":"h"},"transform":[{"filter":"datum.p==3"}],
  "encoding":{"x":{"field":"x","type":"quantitative","title":null,"scale":{"domain":[-3.7,3.7],"nice":false,"zero":false},"axis":{"values":[-3,-2,-1,0,1,2,3],"grid":true,"gridColor":"#000","gridDash":[1,2],"domain":false,"tickSize":-6,"tickColor":"#000","labelPadding":10,"labelOverlap":false,"labelFont":"Liberation Sans","labelFontWeight":"bold","labelFontSize":11,"labelColor":"#000","title":null}}},
  "layer":[
   {"mark":{"type":"area","interpolate":"step","fill":"#00ff00","fillOpacity":0.42},"encoding":{"y":{"field":"g","type":"quantitative","title":null,"scale":{"domain":[0,557],"nice":false},"axis":{"values":[0,100,200,300,400,500],"grid":true,"gridColor":"#000","gridDash":[1,2],"domain":false,"tickSize":-6,"tickColor":"#000","labelPadding":8.5,"labelOverlap":false,"labelFont":"Liberation Sans","labelFontWeight":"bold","labelFontSize":11,"labelColor":"#000","title":null}}}},
   {"mark":{"type":"area","interpolate":"step","fill":"#0000ff","fillOpacity":0.45},"encoding":{"y":{"field":"b","type":"quantitative","title":null}}},
   {"mark":{"type":"area","interpolate":"step","fill":"#ff0000","fillOpacity":0.12},"encoding":{"y":{"field":"r","type":"quantitative","title":null}}},
   {"mark":{"type":"line","interpolate":"step","stroke":"#00ff00","strokeWidth":1.2},"encoding":{"y":{"field":"g","type":"quantitative","title":null}}},
   {"mark":{"type":"line","interpolate":"step","stroke":"#0000ff","strokeWidth":1.2},"encoding":{"y":{"field":"b","type":"quantitative","title":null}}},
   {"mark":{"type":"line","interpolate":"step","stroke":"#ff0000","strokeWidth":1.2},"encoding":{"y":{"field":"r","type":"quantitative","title":null}}},
   {"mark":{"type":"line","interpolate":"step","stroke":"#000000","strokeWidth":4},"encoding":{"y":{"field":"k","type":"quantitative","title":null}}}
  ]},
 {"data":{"values":[{}]},"mark":{"type":"rect","fill":"#fff","stroke":"#000","strokeWidth":1.3},"encoding":{"x":{"datum":-4.512,"title":null},"x2":{"datum":-0.722},"y":{"datum":621.6,"title":null,"axis":null},"y2":{"datum":589.3}}},
 {"data":{"values":[{}]},"mark":{"type":"text","text":"FastJetsClus.mPhi","font":"Liberation Sans","fontWeight":"bold","fontSize":11.5,"align":"center","baseline":"middle","color":"#000"},"encoding":{"x":{"datum":-2.617,"title":null},"y":{"datum":605.5,"title":null,"axis":null}}},
 {"data":{"values":[{}]},"mark":{"type":"rect","fill":"#fff","stroke":"#000","strokeWidth":1.3},"encoding":{"x":{"datum":2.588,"title":null},"x2":{"datum":4.423},"y":{"datum":623.5,"title":null,"axis":{"orient":"left","values":[20,40,60,80,120,140,160,180,220,240,260,280,320,340,360,380,420,440,460,480,520,540],"labels":false,"grid":false,"domain":false,"tickSize":-3,"tickColor":"#000","title":null}},"y2":{"datum":456.2}}},
 {"data":{"values":[{}]},"mark":{"type":"rule","stroke":"#000","strokeWidth":1.3},"encoding":{"x":{"datum":2.588,"title":null},"x2":{"datum":4.423},"y":{"datum":581.7,"title":null,"axis":null}}},
 {"data":{"values":[{}]},"mark":{"type":"text","text":"two3","font":"Liberation Sans","fontWeight":"bold","fontSize":14,"align":"center","baseline":"middle","color":"#000"},"encoding":{"x":{"datum":3.505,"title":null},"y":{"datum":601.3,"title":null,"axis":null}}},
 {"data":{"values":[{}]},"mark":{"type":"text","text":["Entries","Mean","RMS"],"lineHeight":22,"font":"Liberation Sans","fontWeight":"bold","fontSize":7,"align":"left","baseline":"middle","color":"#000"},"encoding":{"x":{"datum":2.678,"title":null},"y":{"datum":558.9,"title":null,"axis":null}}},
 {"data":{"values":[{}]},"mark":{"type":"text","text":["17484","0.0004827","1.866"],"lineHeight":22,"font":"Liberation Sans","fontWeight":"bold","fontSize":7,"align":"right","baseline":"middle","color":"#000"},"encoding":{"x":{"datum":4.302,"title":null},"y":{"datum":558.9,"title":null,"axis":null}}}
]},
{"width":246,"height":293,"resolve":{"axis":{"y":"independent"}},"layer":[
 {"data":{"name":"h"},"transform":[{"filter":"datum.p==4"}],
  "encoding":{"x":{"field":"x","type":"quantitative","title":null,"scale":{"domain":[-3.7,3.7],"nice":false,"zero":false},"axis":{"values":[-3,-2,-1,0,1,2,3],"grid":true,"gridColor":"#000","gridDash":[1,2],"domain":false,"tickSize":-6,"tickColor":"#000","labelPadding":10,"labelOverlap":false,"labelFont":"Liberation Sans","labelFontWeight":"bold","labelFontSize":11,"labelColor":"#000","title":null}}},
  "layer":[
   {"mark":{"type":"area","interpolate":"step","fill":"#00ff00","fillOpacity":0.42},"encoding":{"y":{"field":"g","type":"quantitative","title":null,"scale":{"domain":[0,535],"nice":false},"axis":{"values":[0,100,200,300,400,500],"grid":true,"gridColor":"#000","gridDash":[1,2],"domain":false,"tickSize":-6,"tickColor":"#000","labelPadding":8.5,"labelOverlap":false,"labelFont":"Liberation Sans","labelFontWeight":"bold","labelFontSize":11,"labelColor":"#000","title":null}}}},
   {"mark":{"type":"area","interpolate":"step","fill":"#0000ff","fillOpacity":0.45},"encoding":{"y":{"field":"b","type":"quantitative","title":null}}},
   {"mark":{"type":"area","interpolate":"step","fill":"#ff0000","fillOpacity":0.12},"encoding":{"y":{"field":"r","type":"quantitative","title":null}}},
   {"mark":{"type":"line","interpolate":"step","stroke":"#00ff00","strokeWidth":1.2},"encoding":{"y":{"field":"g","type":"quantitative","title":null}}},
   {"mark":{"type":"line","interpolate":"step","stroke":"#0000ff","strokeWidth":1.2},"encoding":{"y":{"field":"b","type":"quantitative","title":null}}},
   {"mark":{"type":"line","interpolate":"step","stroke":"#ff0000","strokeWidth":1.2},"encoding":{"y":{"field":"r","type":"quantitative","title":null}}},
   {"mark":{"type":"line","interpolate":"step","stroke":"#000000","strokeWidth":4},"encoding":{"y":{"field":"k","type":"quantitative","title":null}}}
  ]},
 {"data":{"values":[{}]},"mark":{"type":"rect","fill":"#fff","stroke":"#000","strokeWidth":1.3},"encoding":{"x":{"datum":-4.512,"title":null},"x2":{"datum":-0.722},"y":{"datum":597.1,"title":null,"axis":null},"y2":{"datum":566}}},
 {"data":{"values":[{}]},"mark":{"type":"text","text":"FastJetsClus.mPhi","font":"Liberation Sans","fontWeight":"bold","fontSize":11.5,"align":"center","baseline":"middle","color":"#000"},"encoding":{"x":{"datum":-2.617,"title":null},"y":{"datum":581.6,"title":null,"axis":null}}},
 {"data":{"values":[{}]},"mark":{"type":"rect","fill":"#fff","stroke":"#000","strokeWidth":1.3},"encoding":{"x":{"datum":2.588,"title":null},"x2":{"datum":4.423},"y":{"datum":598.9,"title":null,"axis":{"orient":"left","values":[20,40,60,80,120,140,160,180,220,240,260,280,320,340,360,380,420,440,460,480,520],"labels":false,"grid":false,"domain":false,"tickSize":-3,"tickColor":"#000","title":null}},"y2":{"datum":438.2}}},
 {"data":{"values":[{}]},"mark":{"type":"rule","stroke":"#000","strokeWidth":1.3},"encoding":{"x":{"datum":2.588,"title":null},"x2":{"datum":4.423},"y":{"datum":558.7,"title":null,"axis":null}}},
 {"data":{"values":[{}]},"mark":{"type":"text","text":"two4","font":"Liberation Sans","fontWeight":"bold","fontSize":14,"align":"center","baseline":"middle","color":"#000"},"encoding":{"x":{"datum":3.505,"title":null},"y":{"datum":577.5,"title":null,"axis":null}}},
 {"data":{"values":[{}]},"mark":{"type":"text","text":["Entries","Mean","RMS"],"lineHeight":22,"font":"Liberation Sans","fontWeight":"bold","fontSize":7,"align":"left","baseline":"middle","color":"#000"},"encoding":{"x":{"datum":2.678,"title":null},"y":{"datum":536.8,"title":null,"axis":null}}},
 {"data":{"values":[{}]},"mark":{"type":"text","text":["17861","0.06043","1.857"],"lineHeight":22,"font":"Liberation Sans","fontWeight":"bold","fontSize":7,"align":"right","baseline":"middle","color":"#000"},"encoding":{"x":{"datum":4.302,"title":null},"y":{"datum":536.8,"title":null,"axis":null}}}
]}
]
}
